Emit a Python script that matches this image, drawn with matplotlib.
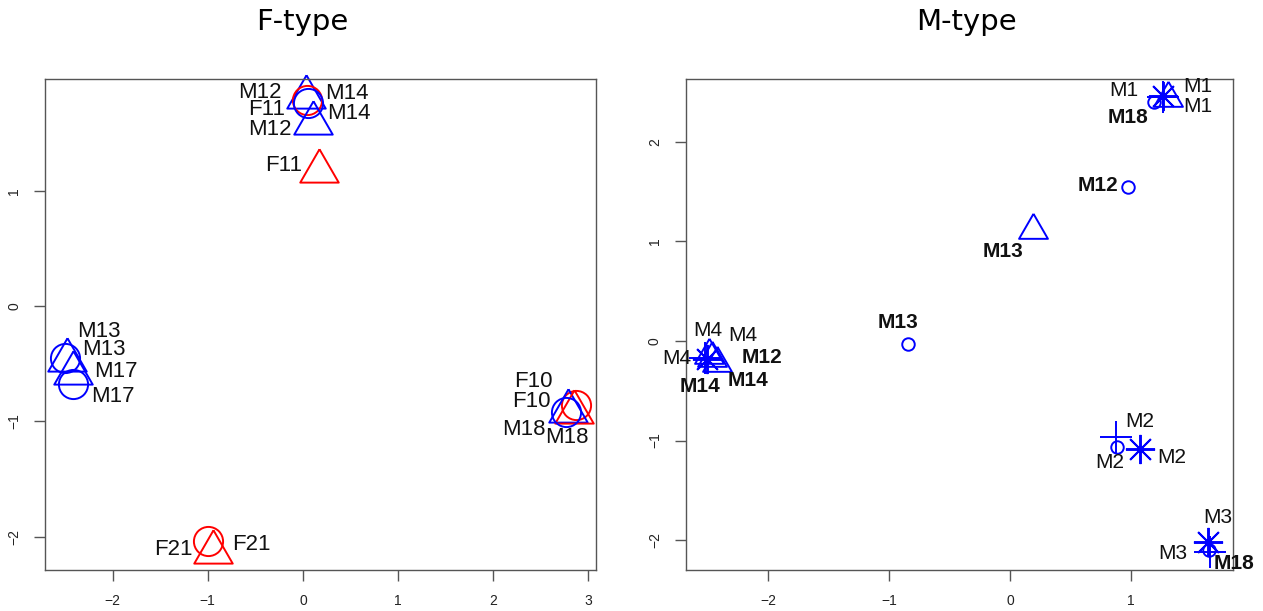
import numpy as np
import matplotlib.pyplot as plt

plt.rcParams['font.family'] = ['Liberation Sans', 'DejaVu Sans']

RED = '#ff0000'
BLUE = '#0000ff'

# ---- F-type panel: marker positions
f_x = [0.03, 0.04, 0.05, 0.105, 0.17,
       -2.50, -2.48, -2.42, -2.42,
       2.87, 2.79, 2.85, 2.77,
       -1.00, -0.94]
f_y = [1.81, 1.79, 1.76, 1.59, 1.17,
       -0.45, -0.47, -0.58, -0.68,
       -0.86, -0.91, -0.92, -0.92,
       -2.04, -2.13]
f_shape = ['tri', 'circ', 'circ', 'tri', 'tri',
           'circ', 'tri', 'tri', 'circ',
           'circ', 'tri', 'tri', 'circ',
           'circ', 'tri']
f_col = ['b', 'r', 'b', 'b', 'r',
         'b', 'b', 'b', 'b',
         'r', 'b', 'r', 'b',
         'r', 'r']

# F-type labels
f_lab = ['M12', 'M14', 'F11', 'M14', 'M12', 'F11',
         'M13', 'M13', 'M17', 'M17',
         'F10', 'F10', 'M18', 'M18',
         'F21', 'F21']
f_lx = [-0.221, 0.232, -0.190, 0.253, -0.116, -0.011,
        -2.371, -2.318, -2.192, -2.223,
        2.624, 2.603, 2.550, 2.550,
        -1.159, -0.748]
f_ly = [1.853, 1.844, 1.706, 1.671, 1.532, 1.221,
        -0.225, -0.381, -0.571, -0.788,
        -0.658, -0.831, -1.074, -1.143,
        -2.113, -2.069]
f_ha = ['right', 'left', 'right', 'left', 'right', 'right',
        'left', 'left', 'left', 'left',
        'right', 'right', 'right', 'left',
        'right', 'left']

# ---- M-type panel
m_x = [1.26, 1.30, 1.26, 1.19,
       0.975, 0.19, -0.84,
       -2.50, -2.52, -2.46, -2.42, -2.49,
       0.87, 0.88, 1.07,
       1.63, 1.65, 1.64]
m_y = [2.46, 2.44, 2.45, 2.40,
       1.55, 1.11, -0.03,
       -0.18, -0.17, -0.17, -0.22, -0.14,
       -0.96, -1.06, -1.09,
       -2.02, -2.12, -2.10]
m_shape = ['star', 'tri', 'plus', 'circ',
           'circ', 'tri', 'circ',
           'star', 'plus', 'tri', 'tri', 'tri',
           'plus', 'circ', 'star',
           'star', 'plus', 'circ']

m_lab = ['M1', 'M18', 'M1', 'M1',
         'M12', 'M13', 'M13',
         'M4', 'M4', 'M4', 'M12', 'M14', 'M14',
         'M2', 'M2', 'M2',
         'M3', 'M3', 'M18']
m_lx = [1.058, 0.802, 1.430, 1.430,
        0.893, -0.223, -0.926,
        -2.496, -2.331, -2.868, -2.215, -2.727, -2.331,
        0.950, 0.702, 1.215,
        1.595, 1.223, 1.678]
m_ly = [2.513, 2.241, 2.553, 2.352,
        1.558, 0.894, 0.181,
        0.101, 0.050, -0.181, -0.171, -0.462, -0.402,
        -0.804, -1.216, -1.166,
        -1.769, -2.131, -2.231]
m_ha = ['right', 'left', 'left', 'left',
        'right', 'left', 'center',
        'center', 'left', 'left', 'left', 'left', 'left',
        'left', 'left', 'left',
        'left', 'left', 'left']
m_bold = [False, True, False, False,
          True, True, True,
          False, False, False, True, True, True,
          False, False, False,
          False, False, True]

# equilateral triangle centred on its centroid, like R's pch=2
TRI = [(0, 1), (0.866, -0.5), (-0.866, -0.5), (0, 1)]
MARKERS = {'tri': TRI, 'circ': 'o', 'plus': '+', 'star': (8, 2, 0)}
COLS = {'r': RED, 'b': BLUE}


def draw_points(ax, xs, ys, shapes, cols, sizes):
    for x, y, s, c in zip(xs, ys, shapes, cols):
        ax.plot(x, y, marker=MARKERS[s], ms=sizes[s], mfc='none',
                mec=COLS[c], mew=1.4, ls='none', clip_on=False)


def style_axes(ax):
    for sp in ax.spines.values():
        sp.set_color('#555555')
        sp.set_linewidth(1.0)
    ax.tick_params(length=8, width=1.0, color='#555555', labelsize=10,
                   labelcolor='#222222', pad=9)
    for lbl in ax.get_yticklabels():
        lbl.set_rotation(90)
        lbl.set_va('center')


fig = plt.figure(figsize=(12.63, 6.11), dpi=100)

ax1 = fig.add_axes([45 / 1263, 1 - 570 / 611, 551 / 1263, 491 / 611])
draw_points(ax1, f_x, f_y, f_shape, f_col, {'tri': 32, 'circ': 21})
for x, y, t, ha in zip(f_lx, f_ly, f_lab, f_ha):
    ax1.text(x, y, t, ha=ha, va='center', fontsize=16, color='#111111')
ax1.set_xlim(-2.71, 3.08)
ax1.set_ylim(-2.29, 1.97)
ax1.set_xticks([-2, -1, 0, 1, 2, 3])
ax1.set_yticks([-2, -1, 0, 1])
style_axes(ax1)

ax2 = fig.add_axes([685.5 / 1263, 1 - 570 / 611, 547.5 / 1263, 491 / 611])
draw_points(ax2, m_x, m_y, m_shape, ['b'] * len(m_x),
            {'tri': 24, 'circ': 9, 'plus': 23, 'star': 21})
for x, y, t, ha, b in zip(m_lx, m_ly, m_lab, m_ha, m_bold):
    ax2.text(x, y, t, ha=ha, va='center', fontsize=15, color='#111111',
             fontweight='bold' if b else 'normal')
ax2.set_xlim(-2.68, 1.84)
ax2.set_ylim(-2.30, 2.63)
ax2.set_xticks([-2, -1, 0, 1])
ax2.set_yticks([-2, -1, 0, 1, 2])
style_axes(ax2)

fig.text(302 / 1263, 1 - 22 / 611, 'F-type', ha='center', va='center',
         fontsize=21, family='DejaVu Sans')
fig.text(966 / 1263, 1 - 22 / 611, 'M-type', ha='center', va='center',
         fontsize=21, family='DejaVu Sans')

fig.savefig('out.png', dpi=100)
